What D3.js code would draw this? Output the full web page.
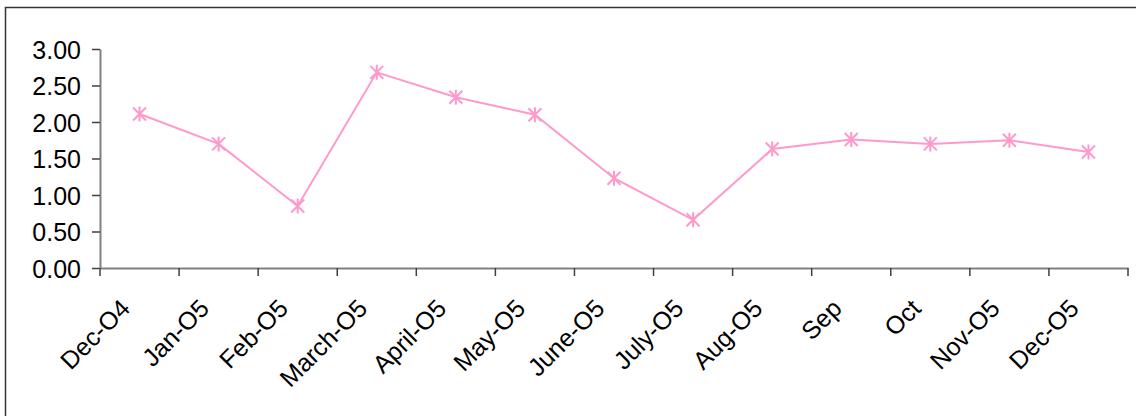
<!DOCTYPE html>
<html>
<head>
<meta charset="utf-8">
<script src="https://cdn.jsdelivr.net/npm/d3@7"></script>
<style>
  html, body { margin: 0; padding: 0; background: #fff; }
  svg { display: block; }
  text { font-family: "Liberation Sans", Arial, sans-serif; }
</style>
</head>
<body>
<svg id="chart" width="1136" height="416"></svg>
<script>
const categories = ["Dec-O4", "Jan-O5", "Feb-O5", "March-O5", "April-O5", "May-O5", "June-O5", "July-O5", "Aug-O5", "Sep", "Oct", "Nov-O5", "Dec-O5"];
const values = [2.11, 1.70, 0.85, 2.68, 2.34, 2.10, 1.23, 0.66, 1.63, 1.76, 1.70, 1.75, 1.59];
const yTicks = [0, 0.5, 1, 1.5, 2, 2.5, 3];

const svg = d3.select("#chart");
const plotLeft = 100, plotRight = 1128, plotTop = 49, plotBottom = 268;

svg.append("rect")
  .attr("x", 5.5).attr("y", 7.5).attr("width", 1300).attr("height", 600)
  .attr("fill", "#fff").attr("stroke", "#333").attr("stroke-width", 1.5);

const x = d3.scaleBand().domain(categories).range([plotLeft, plotRight]).padding(0);
const y = d3.scaleLinear().domain([0, 3]).range([plotBottom, plotTop]);

// Y axis
const yAxis = svg.append("g").attr("transform", `translate(${plotLeft},0)`)
  .call(d3.axisLeft(y).tickValues(yTicks).tickFormat(d3.format(".2f")).tickSize(8).tickSizeOuter(0));
yAxis.select(".domain").attr("stroke", "#808080").attr("stroke-width", 2);
yAxis.selectAll(".tick line").attr("stroke", "#404040").attr("stroke-width", 1.5);
yAxis.selectAll(".tick text").attr("font-size", 25).attr("fill", "#000").attr("x", -19).attr("dy", "0.36em");

// X axis
const xAxis = svg.append("g").attr("transform", `translate(0,${plotBottom})`)
  .call(d3.axisBottom(x).tickSize(0).tickSizeOuter(0));
xAxis.select(".domain").attr("stroke", "#808080").attr("stroke-width", 2);
const boundaries = categories.map(c => x(c)).concat([x(categories[categories.length - 1]) + x.bandwidth()]);
xAxis.selectAll("line.bt").data(boundaries).enter().append("line")
  .attr("class", "bt")
  .attr("x1", d => d).attr("x2", d => d).attr("y1", 0).attr("y2", 8)
  .attr("stroke", "#404040").attr("stroke-width", 1.5);
xAxis.selectAll(".tick text")
  .attr("font-size", 25).attr("fill", "#000")
  .attr("text-anchor", "end")
  .attr("y", 0).attr("dy", 0)
  .attr("transform", "translate(-8,42) rotate(-45)");

// Line
const line = d3.line()
  .x((d, i) => x(categories[i]) + x.bandwidth() / 2)
  .y(d => y(d));
svg.append("path").datum(values)
  .attr("d", line).attr("fill", "none")
  .attr("stroke", "#FF99CC").attr("stroke-width", 2);

// Star markers
const s = 6.5;
const mk = svg.append("g").selectAll("g").data(values).enter().append("g")
  .attr("transform", (d, i) => `translate(${x(categories[i]) + x.bandwidth() / 2},${y(d)})`);
mk.append("path")
  .attr("d", `M${-s},${-s}L${s},${s}M${-s},${s}L${s},${-s}M0,${-s - 1}L0,${s + 1}`)
  .attr("stroke", "#FF99CC").attr("stroke-width", 2).attr("fill", "none");
</script>
</body>
</html>
